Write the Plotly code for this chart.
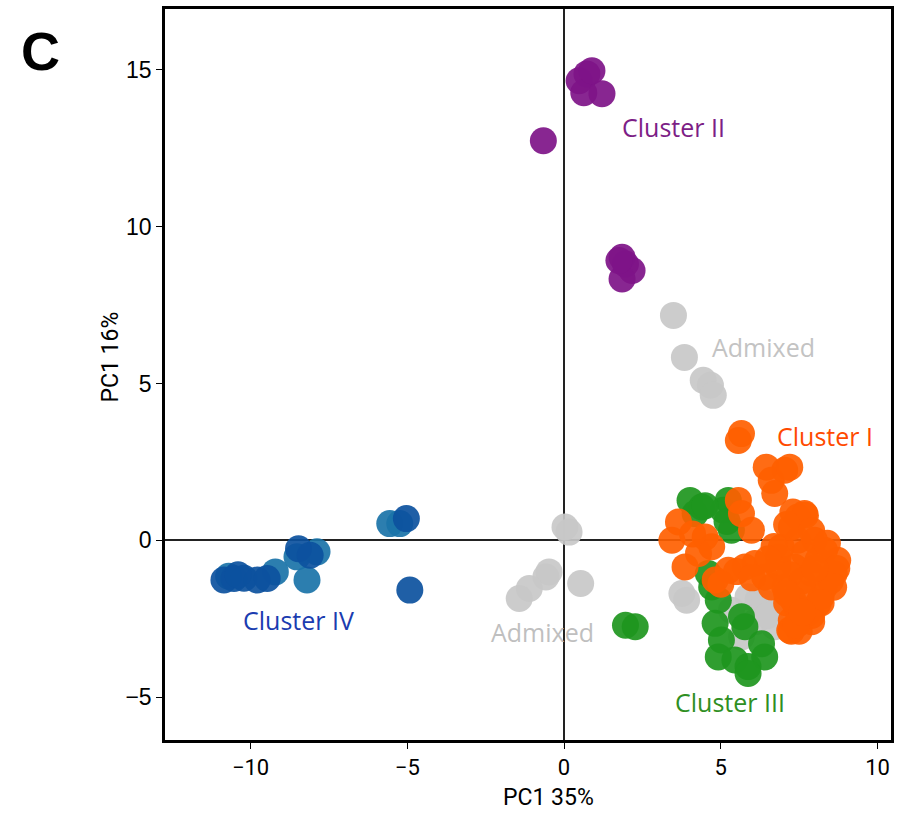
import plotly.graph_objects as go

# PCA scores per group (PC1, PC2)
cluster1_x = [5.66, 5.56, 6.45, 7.04, 6.61, 6.72, 7.20, 5.56, 5.66, 5.98, 7.46, 7.67,
              3.65, 3.44, 4.50, 4.71, 4.29, 3.86, 4.82, 5.24, 5.77, 6.09, 6.40,
              6.93, 7.46, 7.99, 8.31, 8.73, 8.62, 8.31, 7.88, 7.35, 6.83, 7.04, 7.67,
              8.10, 7.78, 7.40, 7.25, 7.46, 7.20, 7.10, 6.61, 6.83, 7.25, 7.67, 8.10,
              8.50, 8.20, 7.90,
              7.30, 7.70, 7.10, 7.90, 8.40, 8.70, 8.60, 8.20, 7.90, 7.50, 7.25, 7.40,
              6.70, 6.50, 7.20, 7.60, 8.00, 7.30, 7.10, 7.60, 5.50, 5.00, 6.00, 4.10]
cluster1_y = [3.40, 3.18, 2.33, 2.23, 1.91, 1.49, 2.33, 1.27, 0.85, 0.32, 0.74, 0.85,
              0.58, 0.00, 0.10, -0.21, -0.42, -0.85, -1.27, -0.96, -0.85, -0.74, -1.17,
              -0.22, 0.00, 0.00, -0.32, -0.64, -1.06, -1.49, -1.06, -0.85, -0.85, -1.49, -1.70,
              -2.02, -2.33, -2.12, -2.55, -2.65, -2.87, -2.00, -1.49, -0.53, 0.42, -0.42, -0.64,
              -1.30, -1.80, -2.40,
              0.90, 0.80, 0.50, 0.30, -0.10, -0.90, -1.50, -2.00, -2.60, -2.90, -2.90, -2.70,
              -0.20, -0.60, -1.10, -1.30, -0.90, -1.90, -1.70, -2.30, -1.00, -1.40, -1.20, 0.20]

cluster2_x = [0.73, 0.48, 0.63, 1.21, 0.89, -0.66, 1.85, 1.96, 2.17, 1.85, 1.75]
cluster2_y = [14.87, 14.65, 14.27, 14.24, 14.97, 12.74, 9.02, 8.81, 8.60, 8.33, 8.92]

cluster3_x = [4.02, 4.39, 4.18, 5.24, 5.08, 5.34, 4.60, 4.71, 4.92, 4.82, 5.66, 5.77,
              5.02, 4.92, 5.45, 5.87, 6.40, 5.87, 6.30, 1.96, 2.27, 5.20, 4.50]
cluster3_y = [1.27, 1.06, 0.85, 1.27, 0.96, 0.32, -1.06, -1.49, -1.91, -2.65, -2.44, -2.76,
              -3.18, -3.72, -3.82, -4.03, -3.72, -4.25, -3.30, -2.71, -2.76, 0.60, 1.10]

cluster4a_x = [-10.85, -10.53, -10.21, -9.79, -9.47, -8.47, -8.10, -5.03, -4.92, -10.40]
cluster4a_y = [-1.27, -1.22, -1.21, -1.27, -1.22, -0.27, -0.48, 0.69, -1.59, -1.10]
cluster4b_x = [-10.70, -9.21, -8.52, -7.88, -8.20, -5.56, -5.24]
cluster4b_y = [-1.15, -1.01, -0.53, -0.37, -1.27, 0.53, 0.53]

admixed_x = [3.49, 3.84, 4.44, 4.67, 4.76, 0.03, 0.16, -0.48, -0.58, -1.11, -1.43, 0.53,
             3.76, 3.91, 5.87, 6.19, 6.61, 5.34, 6.72, 5.66, 6.10, 6.40, 6.50]
admixed_y = [7.17, 5.83, 5.10, 4.94, 4.62, 0.42, 0.26, -1.01, -1.17, -1.54, -1.86, -1.38,
             -1.70, -1.91, -1.80, -1.91, -2.12, -2.23, -2.76, -3.08, -2.60, -2.00, -2.40]

group_labels = ["Cluster II", "Admixed", "Cluster I", "Cluster IV", "Admixed", "Cluster III"]
label_x = [3.49, 6.35, 8.32, -8.48, -0.70, 5.30]
label_y = [13.18, 6.15, 3.31, -2.55, -2.93, -5.16]
label_colors = ["#7D1E86", "#C3C3C3", "#FF4A00", "#1B3CB0", "#BFBFBF", "#2F8F22"]

x_ticks = [-10, -5, 0, 5, 10]
y_ticks = [-5, 0, 5, 10, 15]

MSIZE = 27

fig = go.Figure()

def add_group(xs, ys, color):
    fig.add_trace(go.Scatter(
        x=xs, y=ys, mode="markers",
        marker=dict(size=MSIZE, color=color, opacity=0.92, line=dict(width=0)),
        showlegend=False, hoverinfo="skip"))

add_group(admixed_x, admixed_y, "#C8C8C8")
add_group(cluster3_x, cluster3_y, "#1E961E")
add_group(cluster1_x, cluster1_y, "#FF6000")
add_group(cluster2_x, cluster2_y, "#7E1488")
add_group(cluster4b_x, cluster4b_y, "#1A73A8")
add_group(cluster4a_x, cluster4a_y, "#0C519E")

for txt, lx, ly, col in zip(group_labels, label_x, label_y, label_colors):
    fig.add_annotation(x=lx, y=ly, text=txt, showarrow=False,
                       xanchor="center", yanchor="middle",
                       font=dict(family="Open Sans, sans-serif", size=25, color=col))

# panel letter (paper coordinates span the plot area, so it sits left of it)
fig.add_annotation(x=-0.1715, y=0.9426, xref="paper", yref="paper", text="<b>C</b>",
                   showarrow=False, xanchor="center", yanchor="middle",
                   font=dict(family="Liberation Sans, Arial, sans-serif", size=54, color="black"))
fig.add_annotation(x=0.5, y=0, xref="x domain", yref="y domain", text="PC1 35%",
                   showarrow=False, xanchor="center", yanchor="middle", yshift=-57, xshift=20,
                   font=dict(family="Liberation Sans Narrow, Roboto, sans-serif", size=23, color="black"))
fig.add_annotation(x=0, y=0.5, xref="x domain", yref="y domain", text="PC1 16%",
                   showarrow=False, textangle=-90, xanchor="center", yanchor="middle",
                   xshift=-55, yshift=17,
                   font=dict(family="Liberation Sans Narrow, Roboto, sans-serif", size=23, color="black"))

fig.update_xaxes(range=[-12.73, 10.43], tickvals=x_ticks, ticktext=["\u221210", "\u22125", "0", "5", "10"],
                 ticks="outside", ticklen=6, tickwidth=1, tickcolor="black",
                 showgrid=False, zeroline=True, zerolinecolor="#222", zerolinewidth=1.5,
                 showline=True, linecolor="black", linewidth=2.5, mirror=True,
                 tickfont=dict(family="Liberation Sans Narrow, Roboto, sans-serif", size=22, color="black"))
fig.update_yaxes(range=[-6.37, 16.94], tickvals=y_ticks, ticktext=["\u22125", "0", "5", "10", "15"],
                 ticks="outside", ticklen=6, tickwidth=1, tickcolor="black",
                 showgrid=False, zeroline=True, zerolinecolor="#222", zerolinewidth=1.5,
                 showline=True, linecolor="black", linewidth=2.5, mirror=True,
                 tickfont=dict(family="Liberation Sans, Arial, sans-serif", size=23, color="black"))

fig.update_layout(width=900, height=815, margin=dict(l=165, r=6, t=8, b=75),
                  plot_bgcolor="white", paper_bgcolor="white")

fig.write_html("out.html")
